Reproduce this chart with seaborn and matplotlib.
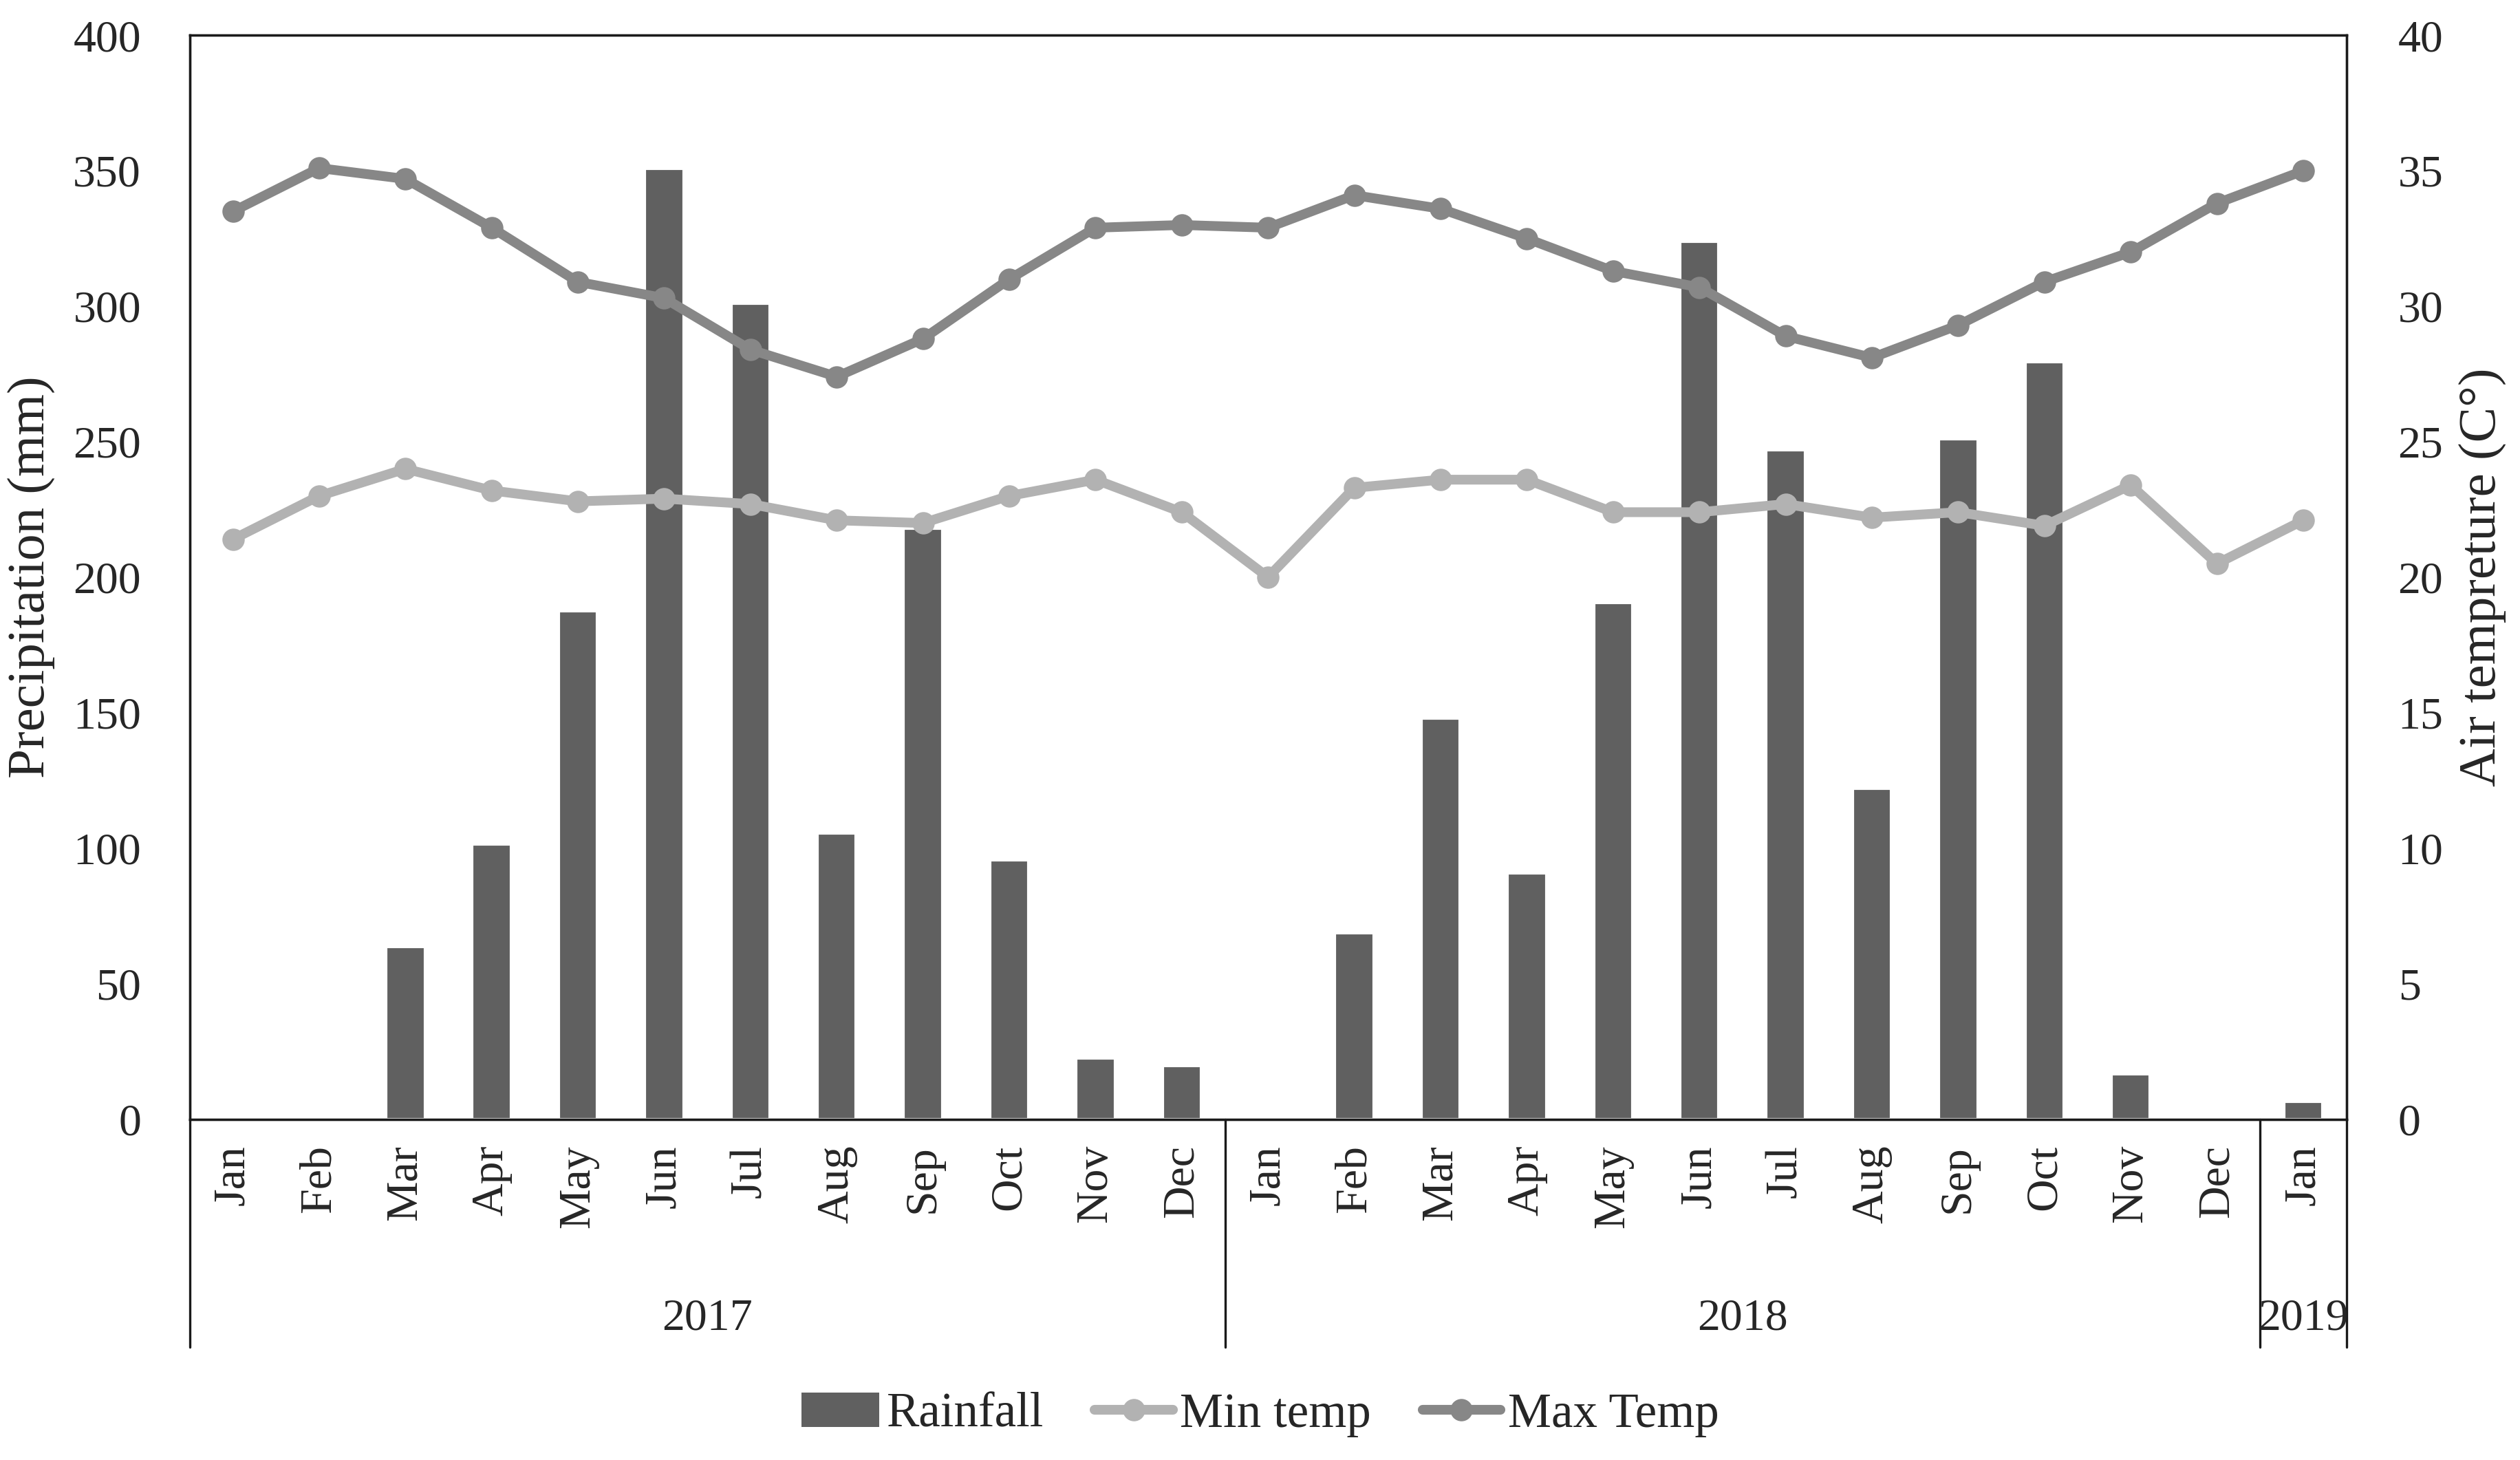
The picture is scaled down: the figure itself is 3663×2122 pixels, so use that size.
import matplotlib
matplotlib.use("Agg")
import matplotlib.pyplot as plt
from matplotlib.patches import Patch
from matplotlib.lines import Line2D
import matplotlib.transforms as mtransforms
import seaborn as sns
import pandas as pd
import numpy as np

# ---------------- data ----------------
months = ["Jan", "Feb", "Mar", "Apr", "May", "Jun", "Jul", "Aug", "Sep", "Oct", "Nov", "Dec",
          "Jan", "Feb", "Mar", "Apr", "May", "Jun", "Jul", "Aug", "Sep", "Oct", "Nov", "Dec",
          "Jan"]
years = ["2017", "2018", "2019"]
year_counts = [12, 12, 1]
rainfall = [0, 0.5, 63.5, 101.5, 187.5, 350.7, 301, 105.6, 218, 95.5, 22.5, 19.6,
            0, 68.8, 147.8, 90.8, 190.5, 324, 247, 122, 251, 279.5, 16.6, 0, 6.5]
min_temp = [21.4, 23.0, 24.0, 23.2, 22.8, 22.9, 22.7, 22.1, 22.0, 23.0, 23.6, 22.4,
            20.0, 23.3, 23.6, 23.6, 22.4, 22.4, 22.7, 22.2, 22.4, 21.9, 23.4, 20.5, 22.1]
max_temp = [33.5, 35.1, 34.7, 32.9, 30.9, 30.3, 28.4, 27.4, 28.8, 31.0, 32.9, 33.0,
            32.9, 34.1, 33.6, 32.5, 31.3, 30.7, 28.9, 28.1, 29.3, 30.9, 32.0, 33.8, 35.0]
left_ticks = [0, 50, 100, 150, 200, 250, 300, 350, 400]
right_ticks = [0, 5, 10, 15, 20, 25, 30, 35, 40]

df = pd.DataFrame({"idx": np.arange(len(months)), "month": months,
                   "Rainfall": rainfall, "Min temp": min_temp, "Max Temp": max_temp})

# ---------------- style ----------------
sns.set_theme(style="white")
plt.rcParams["font.family"] = ["Liberation Serif", "DejaVu Serif"]
FS = 15.8
FS_LAB = 18.5
FS_LEG = 17

c_bar = "#606060"
c_min = "#B2B2B2"
c_max = "#878787"
LW = 3.4
MS = 7.8

fig = plt.figure(figsize=(3663 / 300, 2122 / 300), dpi=300)
ax = fig.add_axes([0.0753, 0.2335, 0.9311 - 0.0753, 0.9758 - 0.2335])

sns.barplot(data=df, x="idx", y="Rainfall", native_scale=True, color=c_bar,
            width=0.45, saturation=1, ax=ax, zorder=2)
ax.set_xlim(-0.5, len(months) - 0.5)
ax.set_ylim(0, 400)
ax.set_yticks(left_ticks)
ax.set_yticklabels([str(t) for t in left_ticks], fontsize=FS)
ax.set_xticks(df["idx"])
ax.set_xticklabels(months, rotation=90, fontsize=FS, va="top", ha="center")
ax.tick_params(axis="x", length=0, pad=9)
ax.tick_params(axis="y", length=0, pad=17)
ax.set_xlabel("")
ax.set_ylabel("Precipitation (mm)", fontsize=FS_LAB)
ax.yaxis.set_label_coords(-0.0625, 0.5)

ax2 = ax.twinx()
sns.lineplot(data=df, x="idx", y="Min temp", color=c_min, lw=LW, marker="o",
             markersize=MS, markeredgewidth=0, ax=ax2, zorder=3)
sns.lineplot(data=df, x="idx", y="Max Temp", color=c_max, lw=LW, marker="o",
             markersize=MS, markeredgewidth=0, ax=ax2, zorder=3)
ax2.set_ylim(0, 40)
ax2.set_yticks(right_ticks)
ax2.set_yticklabels([str(t) for t in right_ticks], fontsize=FS)
ax2.tick_params(axis="y", length=0, pad=18)
ax2.set_ylabel("Air tempreture (C°)", fontsize=FS_LAB)
ax2.yaxis.set_label_coords(1.052, 0.5)
ax2.set_xlim(-0.5, len(months) - 0.5)
ax2.grid(False)
ax.grid(False)

for a in (ax, ax2):
    for s in a.spines.values():
        s.set_color("#1a1a1a")
        s.set_linewidth(0.8)

# group separators and year labels
trans = mtransforms.blended_transform_factory(ax.transData, ax.transAxes)
ybot = -0.2107
bounds = [-0.5]
for n in year_counts:
    bounds.append(bounds[-1] + n)
for b in bounds:
    ax.add_line(Line2D([b, b], [0, ybot], transform=trans, color="#1a1a1a",
                       lw=0.8, clip_on=False))
for i, yr in enumerate(years):
    xc = (bounds[i] + bounds[i + 1]) / 2
    ax.text(xc, -0.184, yr, transform=trans, ha="center", va="center", fontsize=FS)

# legend
handles = [Patch(facecolor=c_bar, edgecolor="none"),
           Line2D([], [], color=c_min, lw=LW, marker="o", markersize=MS, markeredgewidth=0),
           Line2D([], [], color=c_max, lw=LW, marker="o", markersize=MS, markeredgewidth=0)]
fig.legend(handles, ["Rainfall", "Min temp", "Max Temp"], loc="center",
           bbox_to_anchor=(0.5, 0.031), ncol=3, frameon=False, fontsize=FS_LEG,
           handlelength=1.6, handletextpad=0.15, columnspacing=1.05)

fig.savefig("out.png", dpi=300)
